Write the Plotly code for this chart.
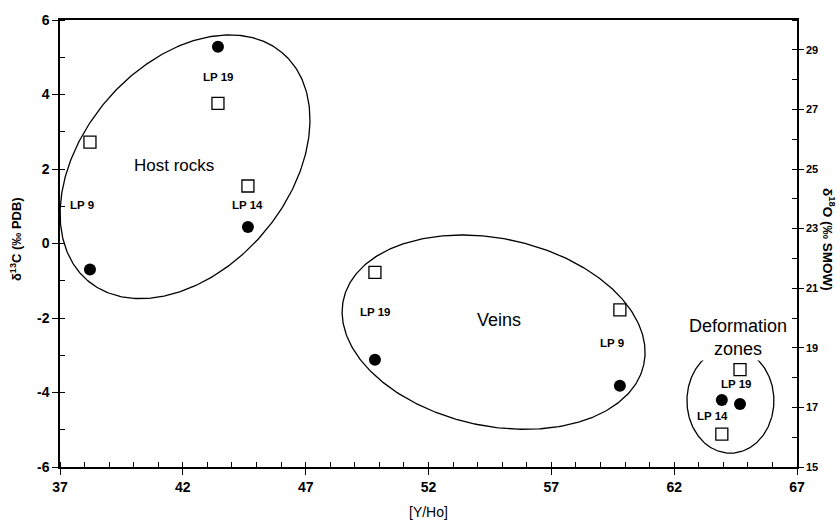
import numpy as np
import plotly.graph_objects as go

# ---- data ----
yho_c = [43.43, 38.22, 44.65, 49.82, 59.79, 63.94, 64.68]
d13c = [5.28, -0.70, 0.44, -3.12, -3.82, -4.20, -4.31]
yho_o = [43.43, 38.22, 44.65, 49.82, 59.79, 64.68, 63.94]
d18o = [27.2, 25.9, 24.43, 21.53, 20.27, 18.27, 16.1]

x_ticks = [37, 42, 47, 52, 57, 62, 67]
y_ticks = [-6, -4, -2, 0, 2, 4, 6]
y_ticktext = ["-6", "-4", "-2", "0", "2", "4", "6"]
y2_ticks = [15, 17, 19, 21, 23, 25, 27, 29]

# group ellipses: centre (Y/Ho, d13C), semi-axes in px, rotation in degrees
ell_cx = [42.09, 54.65, 64.29]
ell_cy = [2.06, -2.38, -4.22]
ell_a = [150.6, 153.7, 53.0]
ell_b = [103.1, 94.5, 43.5]
ell_rot = [50.0, -12.4, 90.0]

# labels
lab_text = ["LP 19", "LP 9", "LP 14", "LP 19", "LP 9", "LP 19", "LP 14"]
lab_x = [43.43, 37.9, 44.65, 49.82, 59.47, 64.52, 63.54]
lab_y = [4.48, 1.03, 1.03, -1.85, -2.67, -3.76, -4.64]

grp_text = ["Host rocks", "Veins", "Deformation<br>zones"]
grp_x = [41.64, 54.87, 64.6]
grp_y = [2.09, -2.06, -2.53]
grp_size = [17, 18, 18]

# ---- layout geometry ----
W, H = 840, 523
ML, MR, MT, MB = 60, 43, 16, 56
XR = [37, 67]
YR = [-6, 6]
Y2R = [15, 30]
pxx = (W - ML - MR) / (XR[1] - XR[0])
pxy = (H - MT - MB) / (YR[1] - YR[0])

FONT = "Liberation Sans, Arial, sans-serif"

fig = go.Figure()

t = np.linspace(0, 2 * np.pi, 400)
for cx, cy, a, b, r in zip(ell_cx, ell_cy, ell_a, ell_b, ell_rot):
    th = np.radians(r)
    dx = a * np.cos(t) * np.cos(th) - b * np.sin(t) * np.sin(th)
    dy = a * np.cos(t) * np.sin(th) + b * np.sin(t) * np.cos(th)
    fig.add_trace(go.Scatter(x=cx + dx / pxx, y=cy + dy / pxy, mode="lines",
                             line=dict(color="black", width=1.3),
                             hoverinfo="skip", showlegend=False))

fig.add_trace(go.Scatter(x=yho_c, y=d13c, mode="markers", name="δ13C",
                         marker=dict(symbol="circle", size=12, color="black"),
                         showlegend=False))
fig.add_trace(go.Scatter(x=yho_o, y=d18o, mode="markers", name="δ18O", yaxis="y2",
                         marker=dict(symbol="square-open", size=12, color="black",
                                     line=dict(width=1.3)),
                         showlegend=False))

ann = []
for tx, x, y in zip(lab_text, lab_x, lab_y):
    ann.append(dict(x=x, y=y, xref="x", yref="y", text=tx, showarrow=False,
                    font=dict(family=FONT, size=11.5, color="black", weight="bold")))
for tx, x, y, s in zip(grp_text, grp_x, grp_y, grp_size):
    a = dict(x=x, y=y, xref="x", yref="y", text=tx, showarrow=False,
             font=dict(family=FONT, size=s, color="black"))
    if "zones" in tx:
        a["bgcolor"] = "white"
    ann.append(a)
ann.append(dict(x=0, y=0.51, xref="paper", yref="paper", xanchor="center", yanchor="middle",
                text="δ<sup>13</sup>C (‰ PDB)", textangle=-90, showarrow=False,
                xshift=-44, font=dict(family=FONT, size=13, color="black", weight="bold")))
ann.append(dict(x=1, y=0.51, xref="paper", yref="paper", xanchor="center", yanchor="middle",
                text="δ<sup>18</sup>O (‰ SMOW)", textangle=90, showarrow=False,
                xshift=32, font=dict(family=FONT, size=13.5, color="black", weight="bold")))
ann.append(dict(x=0.5, y=0, xref="paper", yref="paper", xanchor="center", yanchor="middle",
                text="[Y/Ho]", showarrow=False, yshift=-45,
                font=dict(family=FONT, size=14, color="black")))

axis_common = dict(showline=True, linecolor="black", linewidth=1.5, showgrid=False,
                   zeroline=False, ticks="outside", ticklen=6, tickwidth=1.2, tickcolor="black",
                   tickfont=dict(family=FONT, size=14, color="black", weight="bold"))

fig.update_layout(
    width=W, height=H,
    margin=dict(l=ML, r=MR, t=MT, b=MB),
    paper_bgcolor="white", plot_bgcolor="white",
    xaxis=dict(range=XR, tickvals=x_ticks, mirror=True,
               minor=dict(dtick=1, tick0=37, ticks="inside", ticklen=5, tickcolor="black", tickwidth=1),
               **axis_common),
    yaxis=dict(range=YR, tickvals=y_ticks, ticktext=y_ticktext, mirror=False,
               minor=dict(dtick=1, tick0=-6, ticks="inside", ticklen=5, tickcolor="black", tickwidth=1),
               **axis_common),
    yaxis2=dict(range=Y2R, tickvals=y2_ticks, overlaying="y", side="right",
                showline=True, linecolor="black", linewidth=1.5, showgrid=False, zeroline=False,
                ticks="outside", ticklen=5, tickwidth=1, tickcolor="black",
                tickfont=dict(family=FONT, size=11, color="black", weight="bold"),
                minor=dict(dtick=1, tick0=15, ticks="inside", ticklen=5, tickcolor="black", tickwidth=1)),
    annotations=ann,
    showlegend=False,
)

fig.write_html("out.html")
